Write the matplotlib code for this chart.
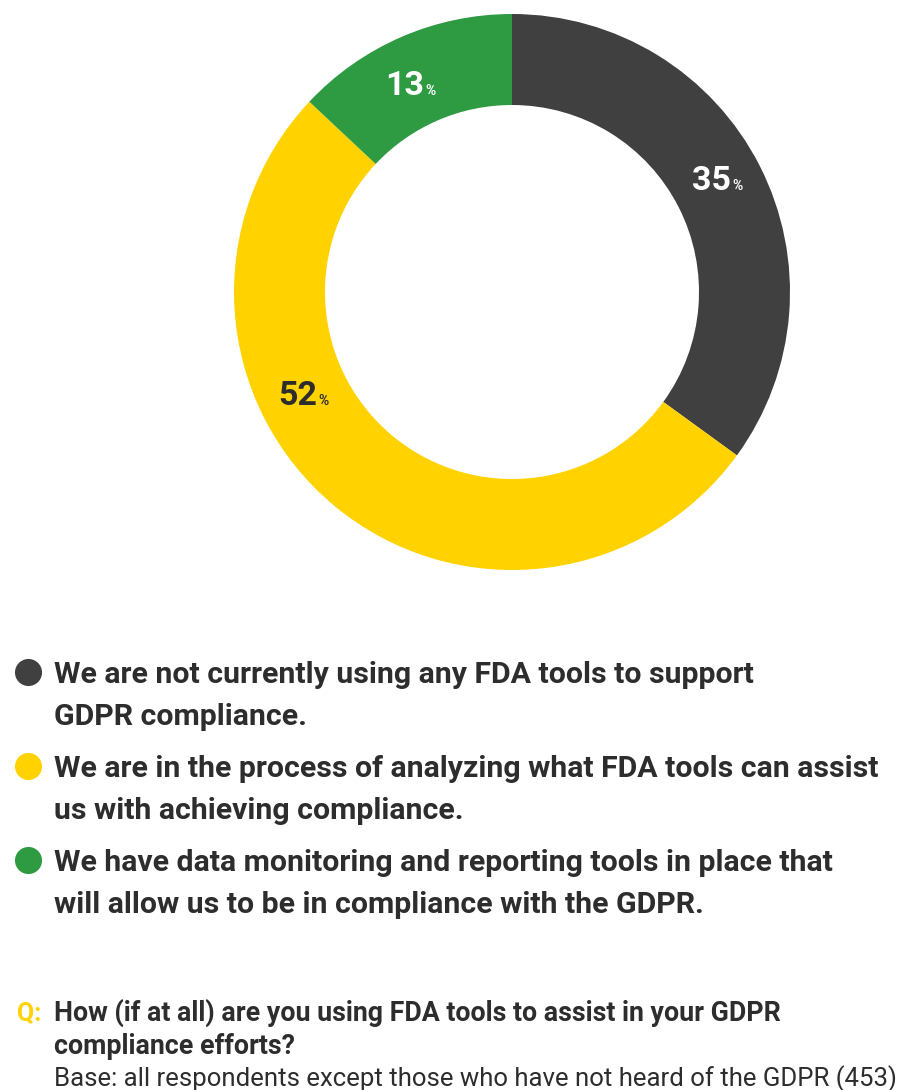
import matplotlib
matplotlib.use('Agg')
import matplotlib.pyplot as plt
import numpy as np

# Survey answers, clockwise from 12 o'clock
shares = [35, 52, 13]
colors = ['#404040', '#FFD200', '#2E9A42']
label_colors = ['white', '#2D2D2D', 'white']
# where each value label sits on the ring: angle (deg) and radius (fraction of outer radius)
label_angles = [25, 210, 114]
label_radii = [0.87, 0.81, 0.775]

legend_labels = [
    'We are not currently using any FDA tools to support\nGDPR compliance.',
    'We are in the process of analyzing what FDA tools can assist\nus with achieving compliance.',
    'We have data monitoring and reporting tools in place that\nwill allow us to be in compliance with the GDPR.',
]

question = 'How (if at all) are you using FDA tools to assist in your GDPR\ncompliance efforts?'
base_note = 'Base: all respondents except those who have not heard of the GDPR (453)'

W, H = 910, 1090
text_color = '#2D2D2D'

fig = plt.figure(figsize=(W / 100, H / 100), dpi=100)
fig.patch.set_facecolor('white')

# page axes in pixel coordinates, origin top-left
page = fig.add_axes([0, 0, 1, 1])
page.set_xlim(0, W)
page.set_ylim(H, 0)
page.axis('off')

# donut
cx, cy, r_out, r_in = 512, 292, 278, 187
pie_ax = fig.add_axes([(cx - r_out) / W, (H - cy - r_out) / H, 2 * r_out / W, 2 * r_out / H])
pie_ax.pie(shares, colors=colors, startangle=90, counterclock=False,
           wedgeprops=dict(width=(r_out - r_in) / r_out, linewidth=0))
pie_ax.set_xlim(-1, 1)
pie_ax.set_ylim(-1, 1)
pie_ax.set_aspect('equal')
pie_ax.axis('off')

for val, ang, rr, col in zip(shares, label_angles, label_radii, label_colors):
    x = rr * np.cos(np.radians(ang))
    y = rr * np.sin(np.radians(ang))
    pie_ax.text(x, y, str(val), ha='right', va='baseline', fontsize=24.5,
                fontweight='bold', color=col, family='Roboto')
    pie_ax.text(x + 0.004, y, '%', ha='left', va='baseline', fontsize=10,
                fontweight='bold', color=col, family='Roboto')

# legend
for i, (lab, col) in enumerate(zip(legend_labels, colors)):
    y0 = 683 + i * 94
    page.scatter([28], [y0 - 11], s=380, color=col, linewidths=0)
    for j, line in enumerate(lab.split('\n')):
        page.text(54, y0 + j * 42, line, fontsize=21.8, fontweight='bold',
                  color=text_color, family='Roboto', va='baseline', ha='left')

# question and base
page.text(17, 1021, 'Q:', fontsize=18, fontweight='bold', color='#FFD200',
          family='Roboto', va='baseline')
for j, line in enumerate(question.split('\n')):
    page.text(54, 1021 + j * 33, line, fontsize=19.3, fontweight='bold',
              color=text_color, family='Roboto', va='baseline')
page.text(54, 1086, base_note, fontsize=18.5, color=text_color,
          family='Roboto', va='baseline')

fig.savefig('out.png', dpi=100, facecolor='white')
